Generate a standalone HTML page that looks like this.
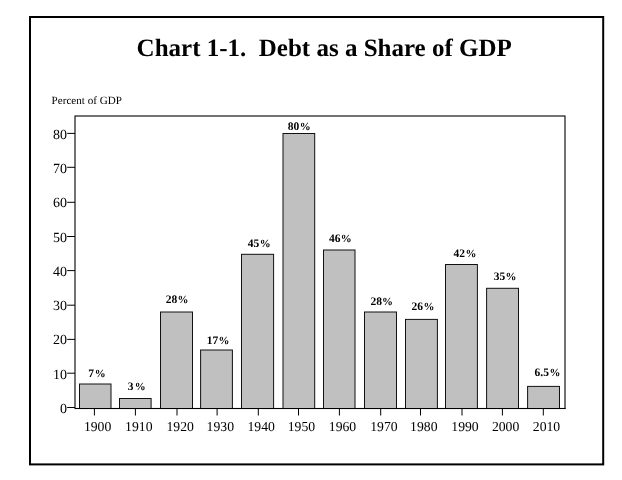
<!DOCTYPE html>
<html lang="en">
<head>
<meta charset="utf-8">
<title>Chart 1-1. Debt as a Share of GDP</title>
<style>
html,body{margin:0;padding:0;background:#fff;}
body{width:622px;height:480px;overflow:hidden;}
svg{display:block;}
text{font-family:"Liberation Serif","Times New Roman",Times,serif;fill:#000;text-rendering:geometricPrecision;}
.title{font-size:25px;font-weight:bold;}
.sub{font-size:11.1px;}
.ytick{font-size:14px;}
.xtick{font-size:13.7px;}
.val{font-size:11.5px;font-weight:bold;}
.pct{font-size:10.9px;font-weight:bold;}
</style>
</head>
<body>
<svg width="622" height="480" viewBox="0 0 622 480">
<rect x="0" y="0" width="622" height="480" fill="#fff"/>
<rect x="30" y="17" width="573.2" height="447.4" fill="none" stroke="#000" stroke-width="2"/>
<text class="title" x="136.6" y="56" xml:space="preserve" style="white-space:pre">Chart 1-1.  Debt as a Share of GDP</text>
<text class="sub" x="51.6" y="103.6">Percent of GDP</text>
<rect x="75" y="116" width="490" height="292.5" fill="none" stroke="#000" stroke-width="1.1"/>
<rect x="79.50" y="384.00" width="31.50" height="24.50" fill="#c0c0c0" stroke="#111" stroke-width="1"/>
<rect x="119.50" y="398.50" width="31.60" height="10.00" fill="#c0c0c0" stroke="#111" stroke-width="1"/>
<rect x="160.50" y="312.00" width="32.00" height="96.50" fill="#c0c0c0" stroke="#111" stroke-width="1"/>
<rect x="200.60" y="350.00" width="31.80" height="58.50" fill="#c0c0c0" stroke="#111" stroke-width="1"/>
<rect x="241.50" y="254.30" width="32.10" height="154.20" fill="#c0c0c0" stroke="#111" stroke-width="1"/>
<rect x="283.00" y="133.50" width="31.70" height="275.00" fill="#c0c0c0" stroke="#111" stroke-width="1"/>
<rect x="323.50" y="250.00" width="31.50" height="158.50" fill="#c0c0c0" stroke="#111" stroke-width="1"/>
<rect x="364.50" y="312.00" width="32.00" height="96.50" fill="#c0c0c0" stroke="#111" stroke-width="1"/>
<rect x="405.50" y="319.40" width="31.90" height="89.10" fill="#c0c0c0" stroke="#111" stroke-width="1"/>
<rect x="445.50" y="264.50" width="31.90" height="144.00" fill="#c0c0c0" stroke="#111" stroke-width="1"/>
<rect x="486.60" y="288.30" width="31.90" height="120.20" fill="#c0c0c0" stroke="#111" stroke-width="1"/>
<rect x="527.60" y="386.40" width="31.90" height="22.10" fill="#c0c0c0" stroke="#111" stroke-width="1"/>
<line x1="75" y1="408.5" x2="565.5" y2="408.5" stroke="#000" stroke-width="1"/>
<line x1="67.2" y1="407.50" x2="75" y2="407.50" stroke="#000" stroke-width="1"/>
<text class="ytick" x="67.1" y="412.90" text-anchor="end">0</text>
<line x1="67.2" y1="373.20" x2="75" y2="373.20" stroke="#000" stroke-width="1"/>
<text class="ytick" x="67.1" y="378.63" text-anchor="end">10</text>
<line x1="67.2" y1="339.40" x2="75" y2="339.40" stroke="#000" stroke-width="1"/>
<text class="ytick" x="67.1" y="344.36" text-anchor="end">20</text>
<line x1="67.2" y1="305.20" x2="75" y2="305.20" stroke="#000" stroke-width="1"/>
<text class="ytick" x="67.1" y="310.09" text-anchor="end">30</text>
<line x1="67.2" y1="270.60" x2="75" y2="270.60" stroke="#000" stroke-width="1"/>
<text class="ytick" x="67.1" y="275.82" text-anchor="end">40</text>
<line x1="67.2" y1="236.50" x2="75" y2="236.50" stroke="#000" stroke-width="1"/>
<text class="ytick" x="67.1" y="241.55" text-anchor="end">50</text>
<line x1="67.2" y1="202.30" x2="75" y2="202.30" stroke="#000" stroke-width="1"/>
<text class="ytick" x="67.1" y="207.28" text-anchor="end">60</text>
<line x1="67.2" y1="167.30" x2="75" y2="167.30" stroke="#000" stroke-width="1"/>
<text class="ytick" x="67.1" y="173.01" text-anchor="end">70</text>
<line x1="67.2" y1="133.40" x2="75" y2="133.40" stroke="#000" stroke-width="1"/>
<text class="ytick" x="67.1" y="138.74" text-anchor="end">80</text>
<line x1="94.40" y1="408" x2="94.40" y2="415.5" stroke="#000" stroke-width="1"/>
<text class="xtick" x="83.91" y="430.6">1900</text>
<line x1="135.40" y1="408" x2="135.40" y2="415.5" stroke="#000" stroke-width="1"/>
<text class="xtick" x="125.11" y="430.6">1910</text>
<line x1="177.00" y1="408" x2="177.00" y2="415.5" stroke="#000" stroke-width="1"/>
<text class="xtick" x="166.51" y="430.6">1920</text>
<line x1="217.10" y1="408" x2="217.10" y2="415.5" stroke="#000" stroke-width="1"/>
<text class="xtick" x="206.61" y="430.6">1930</text>
<line x1="258.30" y1="408" x2="258.30" y2="415.5" stroke="#000" stroke-width="1"/>
<text class="xtick" x="247.51" y="430.6">1940</text>
<line x1="298.50" y1="408" x2="298.50" y2="415.5" stroke="#000" stroke-width="1"/>
<text class="xtick" x="287.71" y="430.6">1950</text>
<line x1="339.40" y1="408" x2="339.40" y2="415.5" stroke="#000" stroke-width="1"/>
<text class="xtick" x="328.81" y="430.6">1960</text>
<line x1="380.70" y1="408" x2="380.70" y2="415.5" stroke="#000" stroke-width="1"/>
<text class="xtick" x="370.21" y="430.6">1970</text>
<line x1="420.50" y1="408" x2="420.50" y2="415.5" stroke="#000" stroke-width="1"/>
<text class="xtick" x="410.11" y="430.6">1980</text>
<line x1="462.00" y1="408" x2="462.00" y2="415.5" stroke="#000" stroke-width="1"/>
<text class="xtick" x="451.31" y="430.6">1990</text>
<line x1="502.40" y1="408" x2="502.40" y2="415.5" stroke="#000" stroke-width="1"/>
<text class="xtick" x="491.89" y="430.6">2000</text>
<line x1="543.30" y1="408" x2="543.30" y2="415.5" stroke="#000" stroke-width="1"/>
<text class="xtick" x="532.79" y="430.6">2010</text>
<text class="val" x="88.37" y="376.80">7<tspan class="pct" x="94.81">%</tspan></text>
<text class="val" x="127.77" y="390.15">3<tspan class="pct" x="134.71">%</tspan></text>
<text class="val" x="165.77" y="303.40">28<tspan class="pct" x="177.51">%</tspan></text>
<text class="val" x="206.64" y="343.80">17<tspan class="pct" x="218.61">%</tspan></text>
<text class="val" x="247.87" y="246.60">45<tspan class="pct" x="259.81">%</tspan></text>
<text class="val" x="287.75" y="130.20">80<tspan class="pct" x="299.71">%</tspan></text>
<text class="val" x="328.97" y="242.30">46<tspan class="pct" x="340.71">%</tspan></text>
<text class="val" x="370.47" y="304.60">28<tspan class="pct" x="382.11">%</tspan></text>
<text class="val" x="411.47" y="309.90">26<tspan class="pct" x="423.51">%</tspan></text>
<text class="val" x="453.57" y="256.50">42<tspan class="pct" x="465.41">%</tspan></text>
<text class="val" x="493.67" y="279.90">35<tspan class="pct" x="505.51">%</tspan></text>
<text class="val" x="534.55" y="375.90">6.5<tspan class="pct" x="549.61">%</tspan></text>
</svg>
</body>
</html>
